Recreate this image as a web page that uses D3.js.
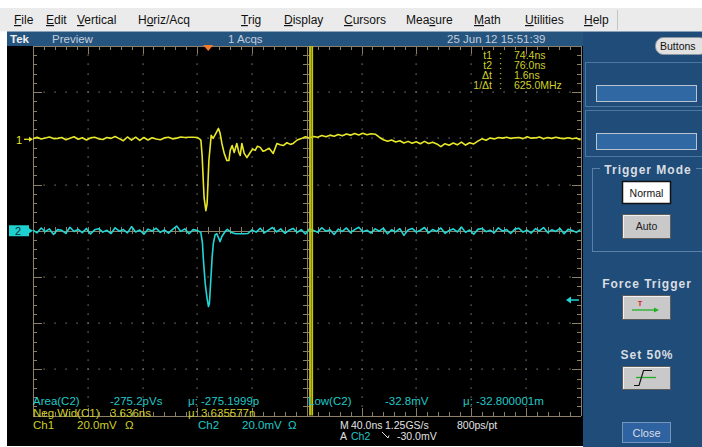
<!DOCTYPE html>
<html>
<head>
<meta charset="utf-8">
<script src="https://cdn.jsdelivr.net/npm/d3@7/dist/d3.min.js"></script>
<style>
body{margin:0;background:#fff;overflow:hidden;}
svg text{font-family:"Liberation Sans",Arial,sans-serif;}
.grat path,.grat line{stroke:#8d8069;shape-rendering:crispEdges;}
</style>
</head>
<body>
<div id="plot"></div>
<script>
// scope settings
var nsPerDiv = 40,
    voltsPerDiv = [20, 20],
    chPosition = [1.98, 0],
    triggerPct = 0.32,
    triggerLevel = -30,
    cursorTimes = [74.4, 76.0];

// Ch1 record (ns from trigger, mV)
var ch1Time = [
 -128,-125,-122,-119,-116,-113,-110,-107,-104,-101,
 -98,-95,-92,-89,-86,-83,-80,-77,-74,-71,
 -68,-65,-62,-59,-56,-53,-50,-47,-44,-41,
 -38,-35,-32,-29,-26,-23,-20,-17,-14,-11,
 -8,
 -5.9,-5.3,-4.4,-3.7,-3.0,-1.7,-0.8,0.5,2.2,3.6,
 5.6,7.5,8.7,10.0,11.7,13.6,15.1,16.1,17.5,19.0,
 20.9,22.4,23.4,24.6,26.3,28.3,30.7,32.5,34.3,36.0,
 38.0,40.0,41.7,44.5,47.5,50.2,52.5,54.8,57.5,60.0,
 62.1,
 65,68,71,74,77,80,83,86,89,92,
 95,98,101,104,107,110,113,116,119,122,
 125,128,131,134,137,140,143,146,149,152,
 155,158,161,164,167,170,173,176,179,182,
 185,188,191,194,197,200,203,206,209,212,
 215,218,221,224,227,230,233,236,239,242,
 245,248,251,254,257,260,263,266,269,272];
var ch1Volt = [
 0.2,0.9,0.1,0.6,1.0,0.3,0.4,0.8,-0.2,0.5,
 1.1,0.0,0.7,-0.3,0.6,0.9,0.2,-0.1,0.8,0.4,
 1.2,0.3,-0.6,1.0,-0.4,0.9,-0.5,0.8,-0.3,0.7,
 0.1,-0.2,0.6,0.9,0.2,0.5,1.0,0.8,0.9,0.9,
 0.8,
 0.0,-0.5,-7.4,-16.6,-25.3,-30.9,-27.9,-9.2,1.7,0.4,
 2.6,4.7,2.6,-1.8,-6.1,-9.2,-9.2,-4.8,-2.7,-5.7,
 -1.8,-5.7,-7.0,-1.8,-6.1,-7.9,-5.7,-4.2,-4.8,-3.0,
 -3.5,-5.2,-4.8,-3.9,-6.1,-1.8,-2.4,-2.7,-1.5,-2.2,
 -1.8,
 -0.3,0.3,1.1,0.6,1.2,0.9,1.6,1.1,1.8,1.3,
 2.1,1.5,2.3,1.8,2.5,1.9,2.6,2.0,2.4,2.2,
 0.9,-0.2,-0.8,-0.3,-1.2,-0.6,-1.6,-0.9,-1.7,-1.1,
 -1.9,-0.9,-1.8,-1.3,-2.0,-3.2,-1.9,-2.6,-1.6,-2.4,
 -1.2,-2.5,-1.5,-2.0,-0.8,0.2,-0.4,0.6,0.1,0.8,
 0.5,0.9,0.4,0.7,0.8,0.3,1.1,0.5,0.6,1.0,
 0.2,0.8,0.4,0.9,0.5,0.3,0.7,0.2,0.6,-0.3];

// Ch2 record (ns from trigger, mV)
var ch2Time = [
 -128,-125,-122,-119,-116,-113,-110,-107,-104,-101,
 -98,-95,-92,-89,-86,-83,-80,-77,-74,-71,
 -68,-65,-62,-59,-56,-53,-50,-47,-44,-41,
 -38,-35,-32,-29,-26,-23,-20,-17,-14,-11,
 -8,
 -5.4,-4.2,-3.5,-2.2,-1.0,0.2,0.9,1.9,2.9,3.8,
 5.1,6.3,8.7,10.0,12.4,
 14,17,20,23,26,29,32,35,38,41,
 44,47,50,53,56,59,62,65,68,71,
 74,77,80,83,86,89,92,95,98,101,
 104,107,110,113,116,119,122,125,128,131,
 134,137,140,143,146,149,152,155,158,161,
 164,167,170,173,176,179,182,185,188,191,
 194,197,200,203,206,209,212,215,218,221,
 224,227,230,233,236,239,242,245,248,251,
 254,257,260,263,266,269,272];
var ch2Volt = [
 0.3,-0.9,1.2,-0.4,0.8,-1.6,0.5,0.2,-1.1,1.5,
 -0.3,0.6,-0.8,1.0,-1.4,0.4,0.9,-0.6,0.2,-1.2,
 1.3,-0.2,0.5,-0.9,1.8,-0.5,0.3,-1.5,0.7,-0.1,
 1.1,-0.7,0.4,-1.0,0.6,2.0,-0.3,0.8,-1.3,0.5,
 0.1,
 -0.7,-5.3,-12.6,-22.7,-28.6,-32.8,-31.4,-21.3,-11.2,-5.3,
 -1.7,-1.3,-4.7,-2.5,-0.3,
 0.6,-0.8,-1.3,-1.3,-1.3,-1.2,0.4,-0.6,1.1,-0.9,
 0.3,1.4,-0.5,0.8,-1.1,0.2,1.0,-0.7,0.5,-1.4,
 0.9,0.1,-0.6,1.3,-0.2,0.4,-1.6,0.7,-0.3,1.2,
 -0.8,0.5,1.5,-0.4,0.2,-1.0,0.8,-0.2,1.1,-1.3,
 0.4,-0.5,0.9,-2.0,0.3,1.0,-0.6,0.2,1.4,-0.9,
 0.5,-0.3,1.2,-1.1,0.1,0.8,-0.5,1.6,-0.7,0.3,
 -1.5,0.6,1.0,-0.4,0.2,-0.9,1.3,-0.2,0.5,-1.2,
 0.7,1.1,-0.6,0.3,-1.0,0.9,-0.1,1.4,-0.8,0.4,
 -0.3,1.0,-1.3,0.6,0.1,-0.7,0.5];

// texts
var menuLabels = ["File","Edit","Vertical","Horiz/Acq","Trig","Display","Cursors","Measure","Math","Utilities","Help"],
    menuUnderline = [0,0,0,1,0,0,0,3,0,0,0];
var statusTexts = ["Tek","Preview","1 Acqs","25 Jun 12 15:51:39"];
var cursorLabels = ["t1","t2","\u0394t","1/\u0394t"],
    cursorValues = ["74.4ns","76.0ns","1.6ns","625.0MHz"];
var measRow1 = ["Area(C2)","-275.2pVs","\u03bc: -275.1999p","Low(C2)","-32.8mV","\u03bc: -32.800001m"],
    measRow2 = ["Neg Wid(C1)","3.636ns","\u03bc: 3.635577n"];
var chanLabels = ["Ch1","20.0mV","\u03a9","Ch2","20.0mV","\u03a9"],
    timebase = ["M","40.0ns","1.25GS/s","800ps/pt"],
    trigInfo = ["A","Ch2","-30.0mV"];

var YEL = "#e8e82a", CYN = "#22d6d6", YTXT = "#cfcf2a", CTXT = "#20c8c8", WTXT = "#e2e2e2";

function zip_data(t, v){
    var data = [];
    for (var i = 0; i < t.length; i++){
        data.push({t: t[i], v: v[i]});
    }
    return data;
}

function draw_scope(){
    var width = 702, height = 447,
        grat = {left: 33, right: 580.5, top: 46, bottom: 415.5};

    var svg = d3.select("#plot").append("svg")
        .attr("width", width).attr("height", height);

    // menu bar
    svg.append("rect").attr("x",0).attr("y",0).attr("width",width).attr("height",8).attr("fill","#fff");
    svg.append("rect").attr("x",0).attr("y",8).attr("width",width).attr("height",23.5).attr("fill","#ebebeb");
    svg.append("line").attr("x1",617.5).attr("x2",617.5).attr("y1",10).attr("y2",30).attr("stroke","#c4c4c4");
    var menuX = [14,46,77,138,241,284,344,406,474,525,584];
    menuLabels.forEach(function(m, i){
        var t = svg.append("text").attr("x", menuX[i]).attr("y", 24)
            .attr("font-size", 12).attr("fill", "#111");
        var k = menuUnderline[i];
        if (k > 0) t.append("tspan").text(m.slice(0, k));
        t.append("tspan").attr("text-decoration","underline").text(m[k]);
        t.append("tspan").text(m.slice(k + 1));
    });

    // right panel + status bar
    svg.append("rect").attr("x",583).attr("y",31.5).attr("width",119).attr("height",height-31.5).attr("fill","#1f4c78");
    svg.append("rect").attr("x",7).attr("y",31.5).attr("width",576).attr("height",14.5).attr("fill","#25547f");
    svg.append("rect").attr("x",7).attr("y",46).attr("width",576).attr("height",400).attr("fill","#000");

    var stX = [10, 52, 228, 447];
    statusTexts.forEach(function(s, i){
        svg.append("text").attr("x", stX[i]).attr("y", 43)
            .attr("font-size", 11.5)
            .attr("font-weight", i == 0 ? "bold" : "normal")
            .attr("fill", i == 0 ? "#f0f0f0" : "#c3cdda")
            .text(s);
    });

    // scales
    var xScale = d3.scaleLinear()
        .domain([-nsPerDiv*10*triggerPct, nsPerDiv*10*(1-triggerPct)])
        .range([grat.left, grat.right]);
    function yScaleFor(ch){
        var vpd = voltsPerDiv[ch], p = chPosition[ch];
        return d3.scaleLinear()
            .domain([-(4+p)*vpd, (4-p)*vpd])
            .range([grat.bottom, grat.top]);
    }
    var y1 = yScaleFor(0), y2 = yScaleFor(1);
    var xDiv = d3.scaleLinear().domain([0,10]).range([grat.left, grat.right]);
    var yDiv = d3.scaleLinear().domain([0,8]).range([grat.top, grat.bottom]);
    var minorX = d3.range(0, 10.001, 0.2), minorY = d3.range(0, 8.001, 0.2);

    // dotted grid
    var dots = svg.append("g").attr("fill","#8f8676");
    d3.range(1,10).filter(function(i){return i != 5;}).forEach(function(i){
        minorY.slice(1,-1).forEach(function(j){
            dots.append("rect").attr("x", Math.round(xDiv(i))-0.5).attr("y", Math.round(yDiv(j))-0.5)
                .attr("width",1.2).attr("height",1.2);
        });
    });
    d3.range(1,8).filter(function(j){return j != 4;}).forEach(function(j){
        minorX.slice(1,-1).forEach(function(i){
            dots.append("rect").attr("x", Math.round(xDiv(i))-0.5).attr("y", Math.round(yDiv(j))-0.5)
                .attr("width",1.2).attr("height",1.2);
        });
    });

    // frame edges with ticks
    function edge(axis, tr, size, values){
        var g = svg.append("g").attr("class","grat").attr("transform", tr)
            .call(axis.tickValues(values).tickSizeInner(size).tickSizeOuter(0).tickFormat(""));
        g.selectAll("line").attr("stroke-width",1);
        return g;
    }
    edge(d3.axisBottom(xDiv), "translate(0,"+grat.top+")", 4, minorX);
    edge(d3.axisTop(xDiv), "translate(0,"+grat.bottom+")", 4, minorX);
    edge(d3.axisRight(yDiv), "translate("+grat.left+",0)", 4, minorY);
    edge(d3.axisLeft(yDiv), "translate("+grat.right+",0)", 4, minorY);
    edge(d3.axisBottom(xDiv), "translate(0,"+grat.top+")", 8, d3.range(0,11)).select(".domain").remove();
    edge(d3.axisTop(xDiv), "translate(0,"+grat.bottom+")", 8, d3.range(0,11)).select(".domain").remove();
    edge(d3.axisRight(yDiv), "translate("+grat.left+",0)", 9, d3.range(0,9)).select(".domain").remove();
    edge(d3.axisLeft(yDiv), "translate("+grat.right+",0)", 9, d3.range(0,9)).select(".domain").remove();
    // centre cross
    edge(d3.axisTop(xDiv), "translate(0,"+yDiv(4)+")", 3.5, minorX);
    edge(d3.axisBottom(xDiv), "translate(0,"+yDiv(4)+")", 3.5, minorX);
    edge(d3.axisLeft(yDiv), "translate("+xDiv(5)+",0)", 3.5, minorY);
    edge(d3.axisRight(yDiv), "translate("+xDiv(5)+",0)", 3.5, minorY);

    // traces
    var line1 = d3.line().x(function(d){return xScale(d.t);}).y(function(d){return y1(d.v);});
    var line2 = d3.line().x(function(d){return xScale(d.t);}).y(function(d){return y2(d.v);});
    svg.append("path").attr("d", line2(zip_data(ch2Time, ch2Volt)))
        .attr("fill","none").attr("stroke",CYN).attr("stroke-width",1.6).attr("stroke-linejoin","round");
    svg.append("path").attr("d", line1(zip_data(ch1Time, ch1Volt)))
        .attr("fill","none").attr("stroke",YEL).attr("stroke-width",1.6).attr("stroke-linejoin","round");

    // cursors
    cursorTimes.forEach(function(t){
        svg.append("line").attr("x1", xScale(t)).attr("x2", xScale(t))
            .attr("y1", grat.top).attr("y2", grat.bottom)
            .attr("stroke","#c9c810").attr("stroke-width",1.8);
    });

    // trigger position marker
    var tx = xScale(0);
    svg.append("path").attr("d","M"+(tx-5)+",45L"+(tx+5)+",45L"+tx+",51Z").attr("fill","#f47a28");

    // trigger level arrow (Ch2)
    var ty = y2(triggerLevel);
    svg.append("line").attr("x1",569).attr("x2",579).attr("y1",ty).attr("y2",ty).attr("stroke",CYN).attr("stroke-width",1.5);
    svg.append("path").attr("d","M566,"+ty+"L571,"+(ty-3.5)+"L571,"+(ty+3.5)+"Z").attr("fill",CYN);

    // channel ground markers
    var g1 = y1(0), g2 = y2(0);
    svg.append("text").attr("x",16).attr("y",g1+4.5).attr("font-size",11).attr("fill",YEL).text("1");
    svg.append("line").attr("x1",24).attr("x2",31).attr("y1",g1).attr("y2",g1).attr("stroke",YEL).attr("stroke-width",1.3);
    svg.append("path").attr("d","M33,"+g1+"L29,"+(g1-2.5)+"L29,"+(g1+2.5)+"Z").attr("fill",YEL);
    svg.append("rect").attr("x",9).attr("y",g2-5.5).attr("width",20).attr("height",11).attr("fill","#1ed0d0");
    svg.append("text").attr("x",15).attr("y",g2+4.5).attr("font-size",11).attr("fill","#0a3030").text("2");
    svg.append("line").attr("x1",28).attr("x2",31).attr("y1",g2).attr("y2",g2).attr("stroke",CYN).attr("stroke-width",1.3);
    svg.append("path").attr("d","M33,"+g2+"L29,"+(g2-2.5)+"L29,"+(g2+2.5)+"Z").attr("fill",CYN);

    // cursor readout
    cursorLabels.forEach(function(l, i){
        var yy = 58.5 + i*10;
        svg.append("text").attr("x",492).attr("y",yy).attr("text-anchor","end").attr("font-size",10.5).attr("fill",YTXT).text(l);
        svg.append("text").attr("x",499).attr("y",yy).attr("font-size",10.5).attr("fill",YTXT).text(":");
        svg.append("text").attr("x",514).attr("y",yy).attr("font-size",10.5).attr("fill",YTXT).text(cursorValues[i]);
    });

    // measurements
    var m1x = [33,110,188,308,385,463];
    measRow1.forEach(function(s, i){
        svg.append("text").attr("x",m1x[i]).attr("y",405).attr("font-size",11.5).attr("fill",CTXT).text(s);
    });
    var m2x = [33,110,188];
    measRow2.forEach(function(s, i){
        svg.append("text").attr("x",m2x[i]).attr("y",417).attr("font-size",11.5).attr("fill",YTXT).text(s);
    });
    var cx = [33,77,125,198,242,288];
    chanLabels.forEach(function(s, i){
        svg.append("text").attr("x",cx[i]).attr("y",429).attr("font-size",11.5).attr("fill", i < 3 ? YTXT : CTXT).text(s);
    });
    var tbx = [340,351,385,457];
    timebase.forEach(function(s, i){
        svg.append("text").attr("x",tbx[i]).attr("y",429).attr("font-size",10.5).attr("fill",WTXT).text(s);
    });
    svg.append("text").attr("x",340).attr("y",440).attr("font-size",10.5).attr("fill",WTXT).text(trigInfo[0]);
    svg.append("text").attr("x",351).attr("y",440).attr("font-size",10.5).attr("fill",CTXT).text(trigInfo[1]);
    svg.append("path").attr("d","M382,432L388,438L389,435.5").attr("fill","none").attr("stroke",WTXT).attr("stroke-width",1);
    svg.append("text").attr("x",397).attr("y",440).attr("font-size",10.5).attr("fill",WTXT).text(trigInfo[2]);

    // panel widgets
    svg.append("rect").attr("x",655.5).attr("y",37.5).attr("width",52).attr("height",17).attr("rx",8)
        .attr("fill","#e2e2e2").attr("stroke","#8e96a0");
    svg.append("text").attr("x",660).attr("y",50).attr("font-size",10.5).attr("fill","#111").text("Buttons");
    [[62,44],[110,46]].forEach(function(f){
        svg.append("rect").attr("x",585.5).attr("y",f[0]+0.5).attr("width",120).attr("height",f[1])
            .attr("fill","none").attr("stroke","#4d76a0");
        svg.append("rect").attr("x",596.5).attr("y",f[0]+23.5).attr("width",100).attr("height",16)
            .attr("fill","#2f68a2").attr("stroke","#b9c4cf");
    });
    svg.append("rect").attr("x",592.5).attr("y",168.5).attr("width",115).attr("height",83)
        .attr("fill","none").attr("stroke","#5a80a8");
    svg.append("rect").attr("x",600).attr("y",162).attr("width",96).attr("height",14).attr("fill","#1f4c78");
    function label(txt, x, y){
        svg.append("text").attr("x",x).attr("y",y).attr("text-anchor","middle")
            .attr("font-size",12).attr("font-weight","bold").attr("letter-spacing",1)
            .attr("fill","#dadde2").text(txt);
    }
    label("Trigger Mode", 648, 173.5);
    label("Force Trigger", 647, 287.5);
    label("Set 50%", 647, 358.5);
    function button(y, h, fill){
        svg.append("rect").attr("x",622.5).attr("y",y+0.5).attr("width",48).attr("height",h)
            .attr("fill",fill).attr("stroke","#5c5c5c");
        svg.append("path").attr("d","M623.5,"+(y+h)+"V"+(y+1.5)+"H669.5").attr("fill","none").attr("stroke","#f2f2f2");
    }
    svg.append("rect").attr("x",622.5).attr("y",181.5).attr("width",48).attr("height",22)
        .attr("fill","#fff").attr("stroke","#111").attr("stroke-width",1.5);
    svg.append("text").attr("x",646.5).attr("y",196.5).attr("text-anchor","middle").attr("font-size",10.5).attr("fill","#111").text("Normal");
    button(214, 24, "#c9c9c9");
    svg.append("text").attr("x",646.5).attr("y",230).attr("text-anchor","middle").attr("font-size",10.5).attr("fill","#222").text("Auto");
    button(295, 24, "#c9c9c9");
    svg.append("text").attr("x",640).attr("y",306).attr("text-anchor","middle").attr("font-size",7.5).attr("font-weight","bold").attr("fill","#e02020").text("T");
    svg.append("line").attr("x1",632).attr("x2",656).attr("y1",310).attr("y2",310).attr("stroke","#22b022").attr("stroke-width",1.3);
    svg.append("path").attr("d","M659,310L654,307.5L654,312.5Z").attr("fill","#22b022");
    button(366, 23, "#c9c9c9");
    svg.append("line").attr("x1",636).attr("x2",656).attr("y1",377.5).attr("y2",377.5).attr("stroke","#22b022").attr("stroke-width",1.3);
    svg.append("path").attr("d","M634,385.5H639L643.5,370.5H652").attr("fill","none").attr("stroke","#111").attr("stroke-width",1.2);
    svg.append("rect").attr("x",622.5).attr("y",422.5).attr("width",48).attr("height",20)
        .attr("fill","#2f62a0").attr("stroke","#7596bb");
    svg.append("text").attr("x",646.5).attr("y",437).attr("text-anchor","middle").attr("font-size",11).attr("fill","#d8dee6").text("Close");
}

draw_scope();
</script>
</body>
</html>
